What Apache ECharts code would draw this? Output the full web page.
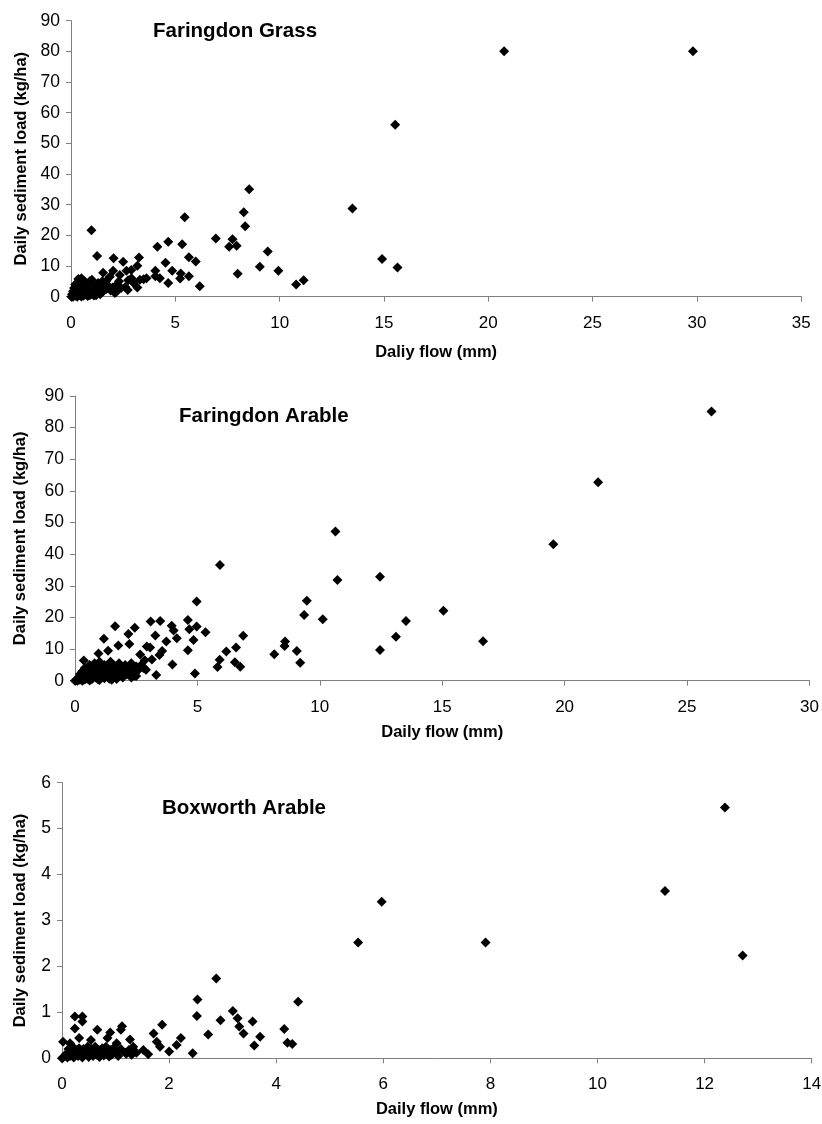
<!DOCTYPE html>
<html><head><meta charset="utf-8">
<script src="https://cdn.jsdelivr.net/npm/echarts/dist/echarts.min.js"></script>
<style>html,body{margin:0;padding:0;background:#fff}#c{width:822px;height:1124px}</style>
</head><body><div id="c"></div>
<script>
const panelTitles = ['Faringdon Grass', 'Faringdon Arable', 'Boxworth Arable'];
const xAxisNames = ['Daliy flow (mm)', 'Daily flow (mm)', 'Daily flow (mm)'];
const yAxisName = 'Daily sediment load (kg/ha)';
const xMax = [35, 30, 14];
const xStep = [5, 5, 2];
const yMax = [90, 90, 6];
const yStep = [10, 10, 1];

// Faringdon Grass: [daily flow (mm), daily sediment load (kg/ha)]
const grassPoints = [
  [0.05,0.1],[0.1,0.3],[0.15,0.5],[0.2,1.2],[0.25,0.2],[0.3,2.5],[0.3,4.5],[0.35,1.0],[0.4,5.5],[0.4,3.0],
  [0.45,0.4],[0.5,2.0],[0.5,6.0],[0.55,1.5],[0.6,3.5],[0.6,0.3],[0.65,5.0],[0.7,2.2],[0.7,0.8],[0.75,4.0],
  [0.8,1.2],[0.85,3.0],[0.9,0.5],[0.9,5.0],[0.95,2.5],[1.0,4.2],[1.0,1.0],[1.05,3.0],[1.1,0.4],[1.15,2.0],
  [1.2,3.5],[1.25,1.2],[1.3,4.5],[1.35,2.5],[1.4,0.8],[1.45,3.0],[1.5,5.0],[1.55,1.8],[1.6,4.0],[1.7,2.5],
  [1.8,3.5],[1.9,2.0],[2.0,3.0],[2.1,1.2],[2.2,4.0],[0.2,4.0],[0.15,2.8],[0.1,1.8],[0.05,0.8],[0.25,3.5],
  [0.35,5.8],[0.55,4.2],[0.45,2.8],[0.65,1.8],[0.85,4.5],[1.0,5.5],[0.1,0.0],[0.02,0.0],[0.3,0.0],[0.5,0.1],
  [0.8,0.2],[1.2,0.5],[2.4,2.8],[2.6,3.2],[3.0,4.5],[3.3,5.5],[2.9,6.0],[1.7,5.2],[2.3,5.0],
  [0.98,21.7],[1.25,13.3],[1.54,7.8],[2.04,12.5],[2.02,8.5],[1.86,6.5],[2.34,7.1],[2.50,11.4],[2.66,8.5],[2.89,8.7],
  [3.18,10.1],[3.26,12.8],[3.18,3.0],[2.72,2.2],[2.18,1.6],[2.74,5.4],[3.48,5.7],[3.62,6.0],[4.04,6.7],[4.04,8.5],
  [4.14,16.3],[4.26,6.0],[4.66,17.9],[4.53,11.1],[4.66,4.5],[4.85,8.5],[5.26,7.6],[5.23,5.9],[5.33,17.1],[5.45,25.9],
  [5.65,12.9],[5.65,6.7],[5.98,11.5],[6.17,3.4],[6.94,19.0],[7.58,16.3],[7.74,18.7],[7.94,16.6],[7.99,7.5],[8.28,27.5],
  [8.35,23.0],[8.54,35.0],[9.05,9.8],[9.43,14.7],[9.94,8.5],[10.79,4.0],[11.15,5.4],[13.49,28.8],[14.91,12.3],[15.54,56.1],
  [15.65,9.5],[20.76,80.0],[29.81,80.0]
];

// Faringdon Arable
const faringdonArablePoints = [
  [0.05,0.2],[0.1,0.5],[0.15,1.0],[0.2,0.3],[0.2,2.0],[0.25,1.5],[0.3,0.8],[0.3,3.0],[0.35,2.2],[0.4,0.4],
  [0.4,4.0],[0.45,1.8],[0.5,2.8],[0.5,0.6],[0.55,3.5],[0.6,1.2],[0.6,5.0],[0.65,2.5],[0.7,0.5],[0.7,4.0],
  [0.75,1.8],[0.8,3.2],[0.8,5.5],[0.85,1.0],[0.9,2.5],[0.9,4.5],[0.95,0.4],[1.0,3.0],[1.0,6.0],[1.05,1.5],
  [1.1,4.0],[1.15,2.5],[1.2,0.8],[1.2,5.0],[1.25,3.2],[1.3,1.8],[1.35,4.5],[1.4,2.5],[1.4,0.6],[1.45,6.0],
  [1.5,3.5],[1.55,1.5],[1.6,4.8],[1.65,2.8],[1.7,0.5],[1.75,3.8],[1.8,5.5],[1.85,2.2],[1.9,4.2],[1.95,1.0],
  [2.0,3.2],[2.05,5.0],[2.1,2.0],[2.2,4.0],[2.25,3.0],[2.3,5.5],[2.4,2.5],[2.5,4.5],[2.6,3.5],[2.7,5.0],
  [2.8,4.0],[2.9,3.5],[0.1,0.0],[0.3,0.0],[0.6,0.1],[1.0,0.2],[1.5,0.3],[0.0,0.0],[2.3,1.0],[2.5,1.5],
  [0.36,6.4],[0.96,8.6],[1.18,13.3],[1.35,9.5],[1.64,17.2],[1.77,11.1],[2.18,14.8],[2.22,11.6],[2.44,16.7],[2.43,1.6],
  [2.66,8.3],[2.85,6.5],[2.93,10.8],[3.09,18.7],[3.14,6.7],[3.07,10.5],[3.28,14.3],[3.32,1.8],[3.45,8.1],[3.48,18.9],
  [3.56,9.4],[3.73,12.4],[3.95,17.4],[4.03,15.9],[3.98,5.1],[4.16,13.4],[4.61,19.2],[4.61,9.6],[4.67,16.3],[4.84,12.9],
  [4.90,2.3],[4.97,17.1],[4.97,25.0],[5.33,15.3],[5.82,4.3],[5.92,36.6],[5.91,6.6],[6.18,9.2],[6.58,10.5],[6.53,5.8],
  [6.75,4.4],[6.87,14.2],[8.14,8.4],[8.58,12.4],[8.56,11.0],[9.06,9.4],[9.20,5.7],[9.36,20.8],[9.47,25.3],[10.12,19.4],
  [10.64,47.2],[10.72,31.8],[12.46,32.9],[12.46,9.7],[13.11,13.9],[13.52,18.9],[15.05,22.1],[16.67,12.5],[19.54,43.1],[21.37,62.7],
  [26.00,85.1]
];

// Boxworth Arable
const boxworthArablePoints = [
  [0.0,0.0],[0.02,0.02],[0.05,0.05],[0.08,0.1],[0.1,0.02],[0.12,0.2],[0.15,0.05],[0.18,0.15],[0.2,0.25],[0.22,0.02],
  [0.25,0.1],[0.28,0.18],[0.3,0.05],[0.32,0.22],[0.35,0.12],[0.38,0.02],[0.4,0.2],[0.42,0.08],[0.45,0.15],[0.48,0.25],
  [0.5,0.03],[0.52,0.12],[0.55,0.2],[0.58,0.05],[0.6,0.15],[0.62,0.25],[0.65,0.08],[0.68,0.18],[0.7,0.03],[0.72,0.12],
  [0.75,0.22],[0.78,0.06],[0.8,0.15],[0.82,0.25],[0.85,0.1],[0.88,0.04],[0.9,0.18],[0.93,0.08],[0.96,0.22],[1.0,0.12],
  [1.05,0.05],[1.1,0.2],[1.2,0.1],[1.25,0.18],[1.3,0.08],
  [0.02,0.36],[0.24,0.91],[0.38,0.91],[0.38,0.80],[0.24,0.65],[0.32,0.44],[0.15,0.33],[0.54,0.40],[0.66,0.62],[0.90,0.56],
  [0.85,0.44],[1.02,0.33],[1.10,0.62],[1.12,0.70],[1.27,0.41],[1.33,0.25],[1.18,0.12],[1.39,0.12],[1.52,0.18],[1.61,0.09],
  [1.71,0.54],[1.77,0.36],[1.83,0.25],[1.87,0.73],[2.00,0.15],[2.14,0.29],[2.22,0.44],[2.44,0.11],[2.52,0.92],[2.53,1.28],
  [2.73,0.52],[2.88,1.74],[2.96,0.83],[3.19,1.03],[3.28,0.87],[3.31,0.69],[3.39,0.54],[3.56,0.80],[3.59,0.28],[3.70,0.47],
  [4.15,0.64],[4.21,0.34],[4.30,0.31],[4.41,1.23],[5.53,2.52],[5.97,3.41],[7.91,2.52],[11.26,3.64],[12.38,5.46],[12.71,2.24]
];

const seriesPoints = [grassPoints, faringdonArablePoints, boxworthArablePoints];

const FONT = 'Liberation Sans, Arial, sans-serif';
const grids = [
  {left: 71, top: 20.7, width: 730.2, height: 276},
  {left: 75, top: 396, width: 734.4, height: 284.7},
  {left: 62, top: 782.7, width: 749.7, height: 275.6}
];
const yNameGaps = [41, 46, 33];
const xNameGaps = [47, 43, 43];
const titlePos = [{left: 153, top: 21}, {left: 179, top: 406}, {left: 162, top: 798}];

const axisLineStyle = {color: '#808080', width: 1};

const option = {
  animation: false,
  backgroundColor: '#ffffff',
  title: panelTitles.map((t, i) => ({
    text: t, left: titlePos[i].left, top: titlePos[i].top, padding: 0,
    textStyle: {fontSize: 20.5, fontWeight: 'bold', color: '#000', fontFamily: FONT}
  })),
  grid: grids.map(g => Object.assign({outerBoundsMode: 'none', containLabel: false}, g)),
  xAxis: grids.map((g, i) => ({
    type: 'value', gridIndex: i, min: 0, max: xMax[i], interval: xStep[i],
    name: xAxisNames[i], nameLocation: 'middle', nameGap: xNameGaps[i], nameMoveOverlap: false,
    nameTextStyle: {fontSize: 16.5, fontWeight: 'bold', color: '#000', fontFamily: FONT},
    axisLine: {show: true, onZero: false, lineStyle: axisLineStyle},
    axisTick: {show: true, inside: false, length: 5, lineStyle: axisLineStyle},
    axisLabel: {color: '#000', fontSize: 17, fontFamily: FONT, margin: 18, hideOverlap: false},
    splitLine: {show: false}
  })),
  yAxis: grids.map((g, i) => ({
    type: 'value', gridIndex: i, min: 0, max: yMax[i], interval: yStep[i],
    name: yAxisName, nameLocation: 'middle', nameGap: yNameGaps[i], nameMoveOverlap: false,
    nameTextStyle: {fontSize: 16.5, fontWeight: 'bold', color: '#000', fontFamily: FONT},
    axisLine: {show: true, onZero: false, lineStyle: axisLineStyle},
    axisTick: {show: true, inside: false, length: 5, lineStyle: axisLineStyle},
    axisLabel: {color: '#000', fontSize: 17.5, fontFamily: FONT, margin: 11, hideOverlap: false},
    splitLine: {show: false}
  })),
  series: seriesPoints.map((pts, i) => ({
    type: 'scatter', xAxisIndex: i, yAxisIndex: i, data: pts,
    symbol: 'diamond', symbolSize: 10,
    itemStyle: {color: '#000', opacity: 1},
    emphasis: {disabled: true}
  }))
};

const chart = echarts.init(document.getElementById('c'), null, {renderer: 'canvas'});
chart.setOption(option);
</script>
</body></html>
